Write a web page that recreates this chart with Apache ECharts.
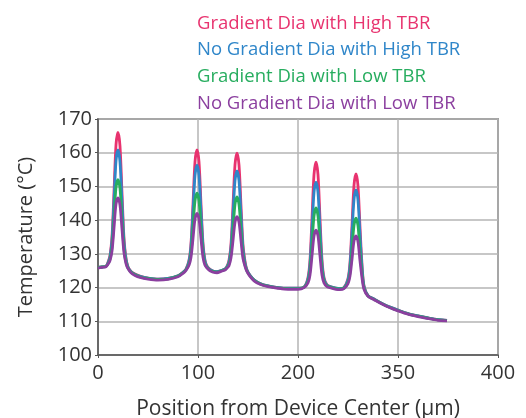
<!DOCTYPE html>
<html>
<head>
<meta charset="utf-8">
<script src="https://cdn.jsdelivr.net/npm/echarts@6/dist/echarts.min.js"></script>
<style>
    html, body { margin: 0; padding: 0; background: #fff; }
    #chart { width: 526px; height: 418px; }
</style>
</head>
<body>
<div id="chart"></div>
<script>
// positions (µm) shared by every curve
var positions = [0, 4, 8, 10, 12, 14, 16, 18, 20, 22, 24, 26, 28, 30, 33, 37, 42, 50, 60, 70, 80,
    85, 88, 91, 93, 95, 97, 99, 101, 103, 105, 107, 109, 112, 115, 119,
    123, 127, 129, 131, 133, 135, 137, 139, 141, 143, 145, 147, 149, 152, 156, 162, 170, 180, 190, 200,
    206, 210, 212, 214, 216, 218, 220, 222, 224, 226, 229, 233, 238, 242, 246,
    250, 252, 254, 256, 258, 260, 262, 264, 266, 270, 276, 284, 292, 300, 310, 320, 330, 340, 349];

var gradHighTbr = [126, 126.1, 126.3, 127.5, 129.5, 135.1, 148.3, 162.3, 166, 162, 148, 134.6, 128.7, 126.2, 124.8, 124, 123.4, 122.8, 122.5, 122.7, 123.5,
    124.5, 125.5, 128.1, 133.1, 144.8, 157.3, 160.8, 157.3, 144.8, 133.1, 128.1, 126.4, 125.4, 124.9, 124.7,
    125, 125.5, 126.3, 128.1, 132.9, 144.3, 156.4, 159.9, 156.4, 144.3, 132.7, 127.8, 125.2, 123.6, 122.3, 121.2, 120.5, 120, 119.8, 119.8,
    120.1, 123, 128.2, 140.5, 153.5, 157.2, 153.5, 140.5, 128.2, 123, 120.8, 120.2, 119.8, 119.7, 120,
    122.7, 127.4, 138.5, 150.3, 153.7, 150.1, 138, 126.9, 120.5, 117.6, 116.6, 115.3, 114.2, 113.3, 112.3, 111.6, 111, 110.5, 110.3];

var noGradHighTbr = [126, 126.1, 126.3, 127.3, 129.1, 134, 145.4, 157.6, 160.8, 157.3, 145.1, 133.5, 128.3, 126, 124.7, 123.9, 123.3, 122.8, 122.5, 122.7, 123.5,
    124.5, 125.4, 127.8, 132.1, 142.4, 153.2, 156.3, 153.2, 142.4, 132.1, 127.8, 126.2, 125.3, 124.9, 124.7,
    125, 125.5, 126.2, 127.6, 131.7, 141.4, 151.7, 154.6, 151.7, 141.4, 131.5, 127.3, 125.1, 123.6, 122.3, 121.2, 120.5, 120, 119.8, 119.8,
    120.1, 122.5, 126.9, 137.2, 148.2, 151.3, 148.2, 137.2, 126.9, 122.5, 120.7, 120.2, 119.8, 119.7, 120,
    122.3, 126.4, 136, 146.1, 149, 145.9, 135.5, 125.9, 120.3, 117.6, 116.6, 115.3, 114.2, 113.3, 112.3, 111.6, 111, 110.5, 110.3];

var gradLowTbr = [126, 126.1, 126.3, 127.1, 128.4, 132, 140.6, 149.7, 152, 149.4, 140.3, 131.5, 127.6, 125.8, 124.6, 123.8, 123.2, 122.7, 122.4, 122.6, 123.4,
    124.4, 125.3, 127.1, 130.3, 137.8, 145.7, 148, 145.7, 137.8, 130.3, 127.1, 126, 125.2, 124.8, 124.6,
    125, 125.4, 126, 127, 130, 137.2, 144.7, 146.9, 144.7, 137.2, 129.8, 126.7, 124.9, 123.5, 122.2, 121.1, 120.4, 119.9, 119.7, 119.7,
    120.1, 121.9, 125.2, 133, 141.2, 143.6, 141.2, 133, 125.2, 121.9, 120.5, 120.1, 119.7, 119.6, 119.9,
    121.6, 124.5, 131.3, 138.5, 140.6, 138.3, 130.8, 124.2, 119.9, 117.5, 116.5, 115.2, 114.1, 113.2, 112.2, 111.5, 110.9, 110.4, 110.2];

var noGradLowTbr = [125.8, 126, 126.2, 126.9, 128, 130.8, 137.6, 144.8, 146.6, 144.5, 137.3, 130.3, 127.1, 125.6, 124.4, 123.6, 123, 122.5, 122.2, 122.4, 123.2,
    124.2, 125.1, 126.6, 129, 134.5, 140.3, 142, 140.3, 134.5, 129, 126.6, 125.8, 125, 124.6, 124.4,
    124.8, 125.2, 125.8, 126.5, 128.8, 133.9, 139.4, 141, 139.4, 133.9, 128.6, 126.3, 124.7, 123.3, 122, 121, 120.3, 119.8, 119.5, 119.5,
    120, 121.4, 123.7, 129.4, 135.3, 137, 135.3, 129.4, 123.7, 121.4, 120.3, 119.9, 119.5, 119.4, 119.7,
    121.2, 123.4, 128.4, 133.8, 135.3, 133.6, 127.9, 122.9, 119.5, 117.4, 116.4, 115.1, 114, 113.1, 112.1, 111.4, 110.8, 110.3, 110.1];

var seriesNames = ['Gradient Dia with High TBR', 'No Gradient Dia with High TBR',
    'Gradient Dia with Low TBR', 'No Gradient Dia with Low TBR'];
var seriesColors = ['#e8336f', '#2f86c9', '#27ad5f', '#8b3f9f'];
var seriesValues = [gradHighTbr, noGradHighTbr, gradLowTbr, noGradLowTbr];

// tick labels as printed on the original (third one reads 350)
var xTickLabels = ['0', '100', '200', '350', '400'];

var fontName = '"Open Sans", "Noto Sans", sans-serif';

var chart = echarts.init(document.getElementById('chart'), null, { renderer: 'canvas' });

var series = [];
for (var s = 0; s < seriesValues.length; s++) {
    var pts = [];
    for (var i = 0; i < positions.length; i++) {
        pts.push([positions[i], seriesValues[s][i]]);
    }
    series.push({
        name: seriesNames[s],
        type: 'line',
        data: pts,
        smooth: 0.3,
        showSymbol: false,
        lineStyle: { color: seriesColors[s], width: 2.8 },
        itemStyle: { color: seriesColors[s] }
    });
}

chart.setOption({
    animation: false,
    backgroundColor: '#fff',
    textStyle: { fontFamily: fontName },
    legend: {
        orient: 'vertical',
        left: 192,
        top: 14,
        icon: 'none',
        itemWidth: 0,
        itemHeight: 18,
        itemGap: 7.7,
        padding: 0,
        selectedMode: false,
        textStyle: { fontFamily: fontName, fontSize: 18.5, lineHeight: 18 },
        data: seriesNames.map(function (n, k) {
            return { name: n, textStyle: { color: seriesColors[k] } };
        })
    },
    grid: {
        left: 98,
        right: 28,
        top: 119,
        bottom: 63,
        outerBoundsMode: 'none',
        containLabel: false,
        show: true,
        borderColor: '#555',
        borderWidth: 1.5
    },
    xAxis: {
        type: 'value',
        min: 0,
        max: 400,
        interval: 100,
        name: 'Position from Device Center (µm)',
        nameLocation: 'middle',
        nameGap: 44,
        nameTextStyle: { fontFamily: fontName, fontSize: 21, color: '#333' },
        axisLine: { show: true, lineStyle: { color: '#555', width: 1.5 } },
        axisTick: { show: true, length: 3, lineStyle: { color: '#555' } },
        axisLabel: {
            fontFamily: fontName, fontSize: 20, color: '#333', margin: 8,
            formatter: function (v) { return xTickLabels[Math.round(v / 100)]; }
        },
        splitLine: { show: true, lineStyle: { color: '#b5b5b5', width: 1.5 } }
    },
    yAxis: {
        type: 'value',
        min: 100,
        max: 170,
        interval: 10,
        name: 'Temperature (°C)',
        nameLocation: 'middle',
        nameGap: 62,
        nameTextStyle: { fontFamily: fontName, fontSize: 20, color: '#333' },
        axisLine: { show: true, lineStyle: { color: '#555', width: 1.5 } },
        axisTick: { show: true, length: 3, lineStyle: { color: '#555' } },
        axisLabel: { fontFamily: fontName, fontSize: 20, color: '#333', margin: 6 },
        splitLine: { show: true, lineStyle: { color: '#b5b5b5', width: 1.5 } }
    },
    series: series
});
</script>
</body>
</html>
